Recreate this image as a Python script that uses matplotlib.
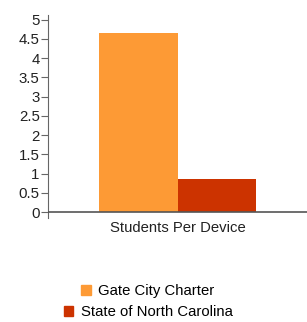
import matplotlib
matplotlib.use("Agg")
import matplotlib.pyplot as plt
from matplotlib.patches import Patch

plt.rcParams["font.family"] = ["Liberation Sans", "DejaVu Sans"]

categories = ["Students Per Device"]
series_names = ["Gate City Charter", "State of North Carolina"]
series_values = [[4.65], [0.87]]
colors = ["#fd9a35", "#cc3300"]
yticks = [0, 0.5, 1, 1.5, 2, 2.5, 3, 3.5, 4, 4.5, 5]

fig = plt.figure(figsize=(3.07, 3.22), dpi=100)
# axes spans from y=-0.15 so the left spine dips slightly below the baseline
ax = fig.add_axes([48 / 307, (322 - 218) / 322, 1 - 48 / 307, (218 - 14.7) / 322])

bar_w = 0.305
n = len(series_names)
for i, (name, vals) in enumerate(zip(series_names, series_values)):
    offs = (i - (n - 1) / 2) * bar_w
    ax.bar([k + offs for k in range(len(categories))], vals, width=bar_w,
           color=colors[i], label=name, zorder=2)

ax.set_xlim(-0.5, len(categories) - 0.5)
ax.set_ylim(-0.15, 5.13)
ax.axhline(0, color="#555555", linewidth=1.2, zorder=3)

ax.set_yticks(yticks)
ax.set_yticklabels([f"{t:g}" for t in yticks], fontsize=10.8, color="#222222")
ax.tick_params(axis="y", length=5, width=0.8, color="#666666", pad=1)
ax.set_xticks([])
ax.text(0, -0.4, categories[0], ha="center", va="center", fontsize=10.7, color="#222222",
        transform=ax.transData)

for s in ["top", "right", "bottom"]:
    ax.spines[s].set_visible(False)
ax.spines["left"].set_color("#666666")
ax.spines["left"].set_linewidth(0.8)

# one centred legend row per series
ys = [291, 312]
for name, c, y in zip(series_names, colors, ys):
    fig.legend(handles=[Patch(color=c, label=name)], loc="center",
               bbox_to_anchor=(148 / 307, 1 - y / 322), frameon=False,
               fontsize=10.7, handlelength=0.65, handleheight=0.65, handletextpad=0.5,
               borderpad=0, borderaxespad=0)

fig.savefig("out.png", dpi=100)
